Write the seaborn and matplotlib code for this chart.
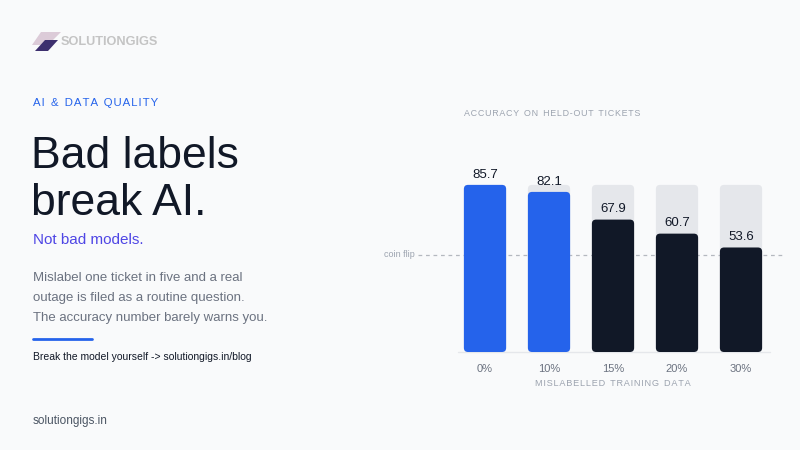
import matplotlib
matplotlib.use("Agg")
import matplotlib.pyplot as plt
import seaborn as sns
import pandas as pd
from matplotlib.patches import FancyBboxPatch, Polygon
from matplotlib.lines import Line2D

# data
categories = ["0%", "10%", "15%", "20%", "30%"]
accuracy = [85.7, 82.1, 67.9, 60.7, 53.6]
bar_colors = ["#2563eb", "#2563eb", "#111827", "#111827", "#111827"]
coin_flip = 50

df = pd.DataFrame({"noise": categories, "accuracy": accuracy})
df["track"] = max(accuracy)

sns.set_theme(style="white")
plt.rcParams["font.family"] = ["Liberation Sans", "DejaVu Sans"]

W, H = 800, 450
fig = plt.figure(figsize=(8, 4.5), dpi=100)
fig.patch.set_facecolor("#f9fafb")


def fx(px):
    return px / W


def fy(py):
    return 1 - py / H


def spaced(s):
    # fake letter spacing with hair spaces
    return "  ".join("\u200a".join(w) for w in s.split(" "))


# axes: baseline at y=352px, 1.95 px per unit
ax = fig.add_axes([fx(418), fy(352), fx(785) - fx(418), 195 / H])
ax.set_facecolor("none")

sns.barplot(data=df, x="noise", y="track", color="#e5e7eb", width=0.66,
            saturation=1, ax=ax, zorder=2)
sns.barplot(data=df, x="noise", y="accuracy", hue="noise", palette=bar_colors,
            width=0.66, saturation=1, legend=False, ax=ax, zorder=3)

ax.set_xlim(-1.047, 4.6875)
ax.set_ylim(0, 100)

# swap plain rectangles for rounded ones
aspect = (367 / 5.7345) / 1.95
for p in list(ax.patches):
    x, y = p.get_x(), p.get_y()
    w, h = p.get_width(), p.get_height()
    rp = FancyBboxPatch((x, y), w, h,
                        boxstyle="round,pad=0,rounding_size=0.065",
                        mutation_aspect=aspect,
                        facecolor=p.get_facecolor(), edgecolor="none",
                        zorder=p.get_zorder())
    p.remove()
    ax.add_patch(rp)

# value labels
for i, v in enumerate(accuracy):
    ax.annotate(f"{v}", (i, v), xytext=(0, 3), textcoords="offset points",
                ha="center", va="bottom", fontsize=9.5, color="#111827",
                zorder=5)

# coin flip reference
ax.axhline(coin_flip, color="#b4b8bf", lw=0.9, ls=(0, (3, 3)), zorder=1)
ax.text(-1.1, coin_flip, "coin flip", ha="right", va="center",
        fontsize=6.5, color="#9ca3af")

# baseline
ax.plot([-0.42, 4.45], [0, 0], color="#e5e7eb", lw=1, zorder=1,
        clip_on=False)

sns.despine(ax=ax, left=True, bottom=True)
ax.set_yticks([])
ax.tick_params(axis="x", length=0, pad=9, labelsize=8, labelcolor="#6b7280")
ax.set_ylabel("")
ax.set_xlabel(spaced("MISLABELLED TRAINING DATA"),
              fontsize=6.6, color="#9ca3af")
ax.xaxis.set_label_coords((613 - 418) / 367, -27 / 195)

# chart title
fig.text(fx(464), fy(113), spaced("ACCURACY ON HELD-OUT TICKETS"),
         fontsize=6.4, color="#9ca3af", ha="left", va="center")

# left column text
fig.text(fx(33), fy(103), spaced("AI & DATA QUALITY"),
         fontsize=8.2, color="#2563eb", ha="left", va="center")
fig.text(fx(31), fy(168), "Bad labels", fontsize=32, color="#111827",
         ha="left", va="baseline")
fig.text(fx(31), fy(215), "break AI.", fontsize=32, color="#111827",
         ha="left", va="baseline")
fig.text(fx(33), fy(240), "Not bad models.", fontsize=11, color="#4f46e5",
         ha="left", va="center")
body = ["Mislabel one ticket in five and a real",
        "outage is filed as a routine question.",
        "The accuracy number barely warns you."]
for k, line in enumerate(body):
    fig.text(fx(33), fy(278 + 20 * k), line, fontsize=9.5, color="#6b7280",
             ha="left", va="center")
fig.add_artist(Line2D([fx(33), fx(92)], [fy(339), fy(339)], color="#2563eb",
                      lw=2, transform=fig.transFigure))
fig.text(fx(33), fy(357), "Break the model yourself -> solutiongigs.in/blog",
         fontsize=7.5, color="#111827", ha="left", va="center")
fig.text(fx(33), fy(421), "solutiongigs.in", fontsize=8.5, color="#4b5563",
         ha="left", va="center")

# logo
light = [(41, 32), (61, 32), (48, 45), (32, 45)]
dark = [(45, 40), (58, 40), (48, 51), (35, 51)]
fig.add_artist(Polygon([(fx(a), fy(b)) for a, b in light], closed=True,
                       facecolor="#dccbd8", edgecolor="none",
                       transform=fig.transFigure))
fig.add_artist(Polygon([(fx(a), fy(b)) for a, b in dark], closed=True,
                       facecolor="#3d2f6e", edgecolor="none",
                       transform=fig.transFigure))
fig.text(fx(61), fy(42), "SOLUTIONGIGS", fontsize=9.2, fontweight="bold",
         color="#c4c4c4", ha="left", va="center")

fig.savefig("out.png", dpi=100, facecolor=fig.get_facecolor())
